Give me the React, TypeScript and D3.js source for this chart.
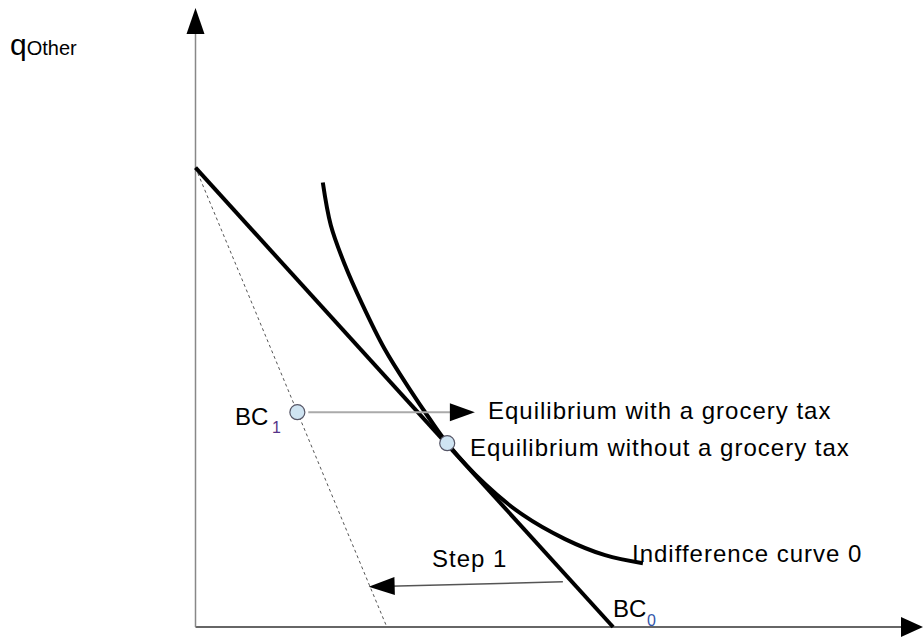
import * as d3 from "d3";
import React from "react";

type Pt = { x: number; y: number };

// budget constraints (axis units, 0..100 on both axes)
const bc0: Pt[] = [
  { x: 0, y: 74.2 },
  { x: 57.4, y: 0 },
];
const bc1: Pt[] = [
  { x: 0, y: 74.2 },
  { x: 26.3, y: 0 },
];

// indifference curve 0
const indifference: Pt[] = [
  { x: 17.5, y: 71.8 },
  { x: 18.6, y: 64.9 },
  { x: 20.5, y: 58.6 },
  { x: 22.9, y: 52.2 },
  { x: 26.0, y: 44.9 },
  { x: 29.5, y: 38.3 },
  { x: 32.2, y: 33.6 },
  { x: 34.6, y: 29.7 },
  { x: 39.8, y: 23.1 },
  { x: 45.0, y: 18.1 },
  { x: 50.8, y: 14.2 },
  { x: 56.3, y: 11.6 },
  { x: 61.5, y: 10.3 },
];

const equilibrium: Pt = { x: 34.6, y: 29.7 };
const bc1Point: Pt = { x: 14.0, y: 34.7 };

// arrows: [from, to]
const shiftArrow: Pt[] = [
  { x: 15.5, y: 34.7 },
  { x: 38.4, y: 34.7 },
];
const stepArrow: Pt[] = [
  { x: 50.5, y: 7.3 },
  { x: 23.8, y: 6.5 },
];

const W = 924;
const H = 639;
const FONT = "'Liberation Sans', Arial, sans-serif";

const x = d3.scaleLinear().domain([0, 100]).range([195.5, 923]);
const y = d3.scaleLinear().domain([0, 100]).range([627, 8]);

const line = d3
  .line<Pt>()
  .x((d) => x(d.x))
  .y((d) => y(d.y));

const curve = d3
  .line<Pt>()
  .x((d) => x(d.x))
  .y((d) => y(d.y))
  .curve(d3.curveCatmullRom.alpha(0.5));

// filled triangle at the "to" end of a segment
const head = (from: Pt, to: Pt, len = 25, half = 9) => {
  const x1 = x(from.x), y1 = y(from.y), x2 = x(to.x), y2 = y(to.y);
  const a = Math.atan2(y2 - y1, x2 - x1);
  const bx = x2 - len * Math.cos(a), by = y2 - len * Math.sin(a);
  const nx = -Math.sin(a) * half, ny = Math.cos(a) * half;
  return `${x2},${y2} ${bx + nx},${by + ny} ${bx - nx},${by - ny}`;
};

// shorten a segment so the line stops under the head
const shaft = (from: Pt, to: Pt, cut = 20) => {
  const x1 = x(from.x), y1 = y(from.y), x2 = x(to.x), y2 = y(to.y);
  const a = Math.atan2(y2 - y1, x2 - x1);
  return { x1, y1, x2: x2 - cut * Math.cos(a), y2: y2 - cut * Math.sin(a) };
};

const origin: Pt = { x: 0, y: 0 };
const xEnd: Pt = { x: 100, y: 0 };
const yEnd: Pt = { x: 0, y: 100 };

export default function App() {
  const sa = shaft(shiftArrow[0], shiftArrow[1]);
  const st = shaft(stepArrow[0], stepArrow[1]);
  const xa = shaft(origin, xEnd);
  const ya = shaft(origin, yEnd);
  return (
    <svg
      width={W}
      height={H}
      style={{ position: "absolute", left: 0, top: 0, background: "#fff" }}
      fontFamily={FONT}
    >
      {/* axes */}
      <line {...xa} stroke="#666" strokeWidth={2} />
      <polygon points={head(origin, xEnd, 22, 10)} fill="#000" />
      <line {...ya} stroke="#888" strokeWidth={1.5} />
      <polygon points={head(origin, yEnd, 26, 9)} fill="#000" />

      {/* BC1 dashed */}
      <path d={line(bc1)!} fill="none" stroke="#555" strokeWidth={1} strokeDasharray="3,3" />
      {/* BC0 */}
      <path d={line(bc0)!} fill="none" stroke="#000" strokeWidth={4} />
      {/* indifference curve */}
      <path d={curve(indifference)!} fill="none" stroke="#000" strokeWidth={4} />

      {/* shift arrow */}
      <line {...sa} stroke="#aaa" strokeWidth={2} />
      <polygon points={head(shiftArrow[0], shiftArrow[1])} fill="#000" />

      {/* step 1 arrow */}
      <line {...st} stroke="#555" strokeWidth={1.5} />
      <polygon points={head(stepArrow[0], stepArrow[1], 26, 9)} fill="#000" />

      {/* points */}
      <circle cx={x(bc1Point.x)} cy={y(bc1Point.y)} r={7.5} fill="#cfe4f2" stroke="#556" strokeWidth={1.2} />
      <circle cx={x(equilibrium.x)} cy={y(equilibrium.y)} r={7.5} fill="#cfe4f2" stroke="#556" strokeWidth={1.2} />

      {/* labels */}
      <text x={10} y={55} fontSize={30} fill="#000">
        q<tspan fontSize={20}>Other</tspan>
      </text>
      <text x={235} y={425} fontSize={24} fill="#000">BC</text>
      <text x={272} y={433} fontSize={16} fill="#553388">1</text>
      <text x={613} y={617} fontSize={24} fill="#000">BC</text>
      <text x={647} y={626} fontSize={16} fill="#3355aa">0</text>

      <text x={488} y={419} fontSize={24} letterSpacing={1} fill="#000">
        Equilibrium with a grocery tax
      </text>
      <text x={470} y={456} fontSize={24} letterSpacing={1} fill="#000">
        Equilibrium without a grocery tax
      </text>
      <text x={632} y={562} fontSize={24} letterSpacing={1} fill="#000">
        Indifference curve 0
      </text>
      <text x={432} y={567} fontSize={24} letterSpacing={1} fill="#000">
        Step 1
      </text>
    </svg>
  );
}
